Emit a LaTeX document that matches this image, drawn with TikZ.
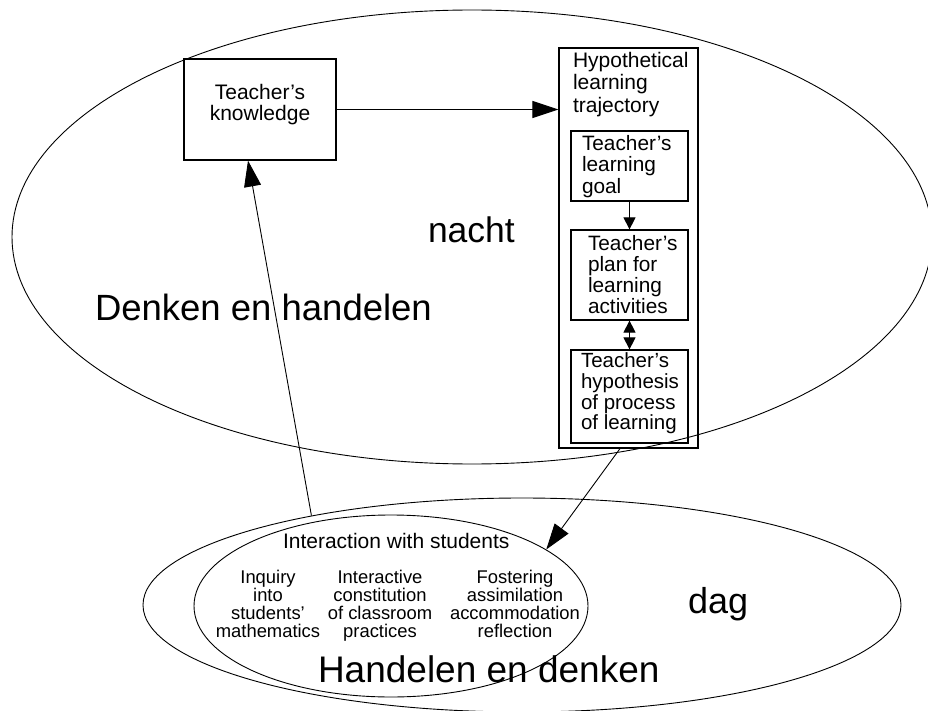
\documentclass[tikz,border=0pt]{standalone}
\usepackage{fontspec}
\setmainfont{Liberation Sans}
\usetikzlibrary{arrows.meta,shapes.geometric}
\tikzset{
  ell/.style={draw, ellipse, line width=0.9pt, inner sep=0pt},
  box/.style={draw, rectangle, line width=1.2pt, inner sep=0pt},
  txt/.style={inner sep=0pt, outer sep=0pt},
  conn/.style={line width=0.9pt},
  bigtip/.style={conn, -{Triangle[length=26pt,width=17pt]}},
  smalltip/.style={conn, -{Triangle[length=12pt,width=12pt]}},
  dbltip/.style={conn, {Triangle[length=12pt,width=12pt]}-{Triangle[length=12pt,width=12pt]}}
}
\begin{document}
\begin{tikzpicture}[x=1pt,y=-1pt]
\useasboundingbox (0,0) rectangle (928,711);
\clip (0,0) rectangle (928,711);
% ellipses
\node[ell, minimum width=920pt, minimum height=454pt] (night) at (472,237) {};
\node[ell, minimum width=758pt, minimum height=214pt] (day) at (522,605) {};
\node[ell, minimum width=394pt, minimum height=182pt] (inner) at (391,606) {};
% boxes
\node[box, minimum width=152pt, minimum height=101pt] (know) at (260,109.5) {};
\node[box, minimum width=139pt, minimum height=400pt] (hlt) at (628.5,248) {};
\node[box, minimum width=117pt, minimum height=70pt] (goal) at (629.5,166) {};
\node[box, minimum width=117pt, minimum height=90pt] (plan) at (629.5,275) {};
\node[box, minimum width=117pt, minimum height=93pt] (hyp) at (629.5,396.5) {};
% box texts
\node[txt, font=\fontsize{21}{21.5}\selectfont, align=center, anchor=north] (knowtext) at (260,84) {Teacher’s\\knowledge};
\node[txt, font=\fontsize{21}{22.5}\selectfont, align=left, anchor=north west] (hlttext) at (573,52) {Hypothetical\\learning\\trajectory};
\node[txt, font=\fontsize{20.8}{21.5}\selectfont, align=left, anchor=north west] (goaltext) at (582,135) {Teacher’s\\learning\\goal};
\node[txt, font=\fontsize{20.8}{21}\selectfont, align=left, anchor=north west] (plantext) at (588,235) {Teacher’s\\plan for\\learning\\activities};
\node[txt, font=\fontsize{20.5}{20.7}\selectfont, align=left, anchor=north west] (hyptext) at (581,353) {Teacher’s\\hypothesis\\of process\\of learning};
% big labels
\node[txt, font=\fontsize{35.5}{40}\selectfont, anchor=base west] (nacht) at (428,243) {nacht};
\node[txt, font=\fontsize{36.5}{40}\selectfont, anchor=base west] (dh) at (95,320) {Denken en handelen};
\node[txt, font=\fontsize{36}{40}\selectfont, anchor=base west] (dag) at (688,613) {dag};
\node[txt, font=\fontsize{37}{40}\selectfont, anchor=base west] (hd) at (318,682) {Handelen en denken};
% interaction
\node[txt, font=\fontsize{21}{22}\selectfont, anchor=base west] (inter) at (283,548) {Interaction with students};
\node[txt, font=\fontsize{18.4}{18}\selectfont, align=center, anchor=north] (col1) at (268,570) {Inquiry\\into\\students’\\mathematics};
\node[txt, font=\fontsize{18.4}{18}\selectfont, align=center, anchor=north] (col2) at (380,570) {Interactive\\constitution\\of classroom\\practices};
\node[txt, font=\fontsize{18.4}{18}\selectfont, align=center, anchor=north] (col3) at (515,570) {Fostering\\assimilation\\accommodation\\reflection};
% connectors
\draw[bigtip] (know.east) -- (know.east -| hlt.west);
\draw[smalltip] (goal.south) -- (plan.north);
\draw[dbltip] (plan.south) -- (hyp.north);
\draw[bigtip] ([xshift=-8.5pt]hlt.south) -- (inner.20);
\draw[bigtip] (day.157) -- ([xshift=-12pt]know.south);
\end{tikzpicture}
\end{document}
